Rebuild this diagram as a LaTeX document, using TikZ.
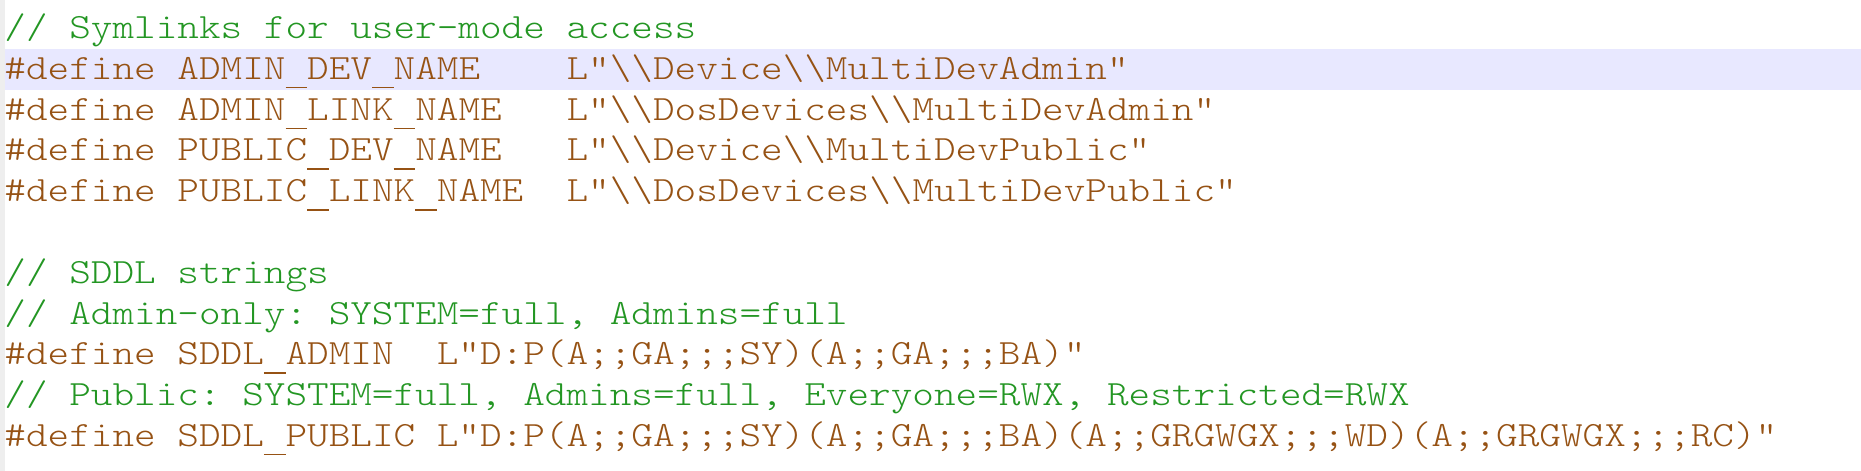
\documentclass[tikz,border=0pt]{standalone}
\usepackage{fontspec}
\newfontfamily\codefont{lmmonolt10-regular.otf}[FakeStretch=1.16, WordSpace={1,0,0}]
\definecolor{cmtgreen}{RGB}{35,150,35}
\definecolor{ppbrown}{RGB}{150,82,20}
\definecolor{curline}{RGB}{232,232,255}
\definecolor{gutter}{RGB}{238,238,238}
\newcommand{\bsl}{\textbackslash}
\newcommand{\us}{\makebox[0pt][l]{\rule[-8.8pt]{\widthof{x}}{1.4pt}}\phantom{x}}
\usepackage{calc}
\begin{document}
\begin{tikzpicture}[x=1pt,y=-1pt,
  codetxt/.style={anchor=base west, inner sep=0pt, outer sep=0pt,
    font=\codefont\fontsize{35.5}{40}\selectfont},
  cmt/.style={codetxt, text=cmtgreen},
  pre/.style={codetxt, text=ppbrown}]
\useasboundingbox (0,0) rectangle (1861,471);
\fill[white] (0,0) rectangle (1861,471);
\fill[gutter] (0,0) rectangle (4.5,471);
\fill[curline] (4.5,49) rectangle (1861,89.5);
\def\xo{4.5}
\node[cmt] (l1) at (\xo,38.5) {//~Symlinks~for~user-mode~access};
\node[pre] (l2) at (\xo,79.3) {\#define~ADMIN\us DEV\us NAME~~~~L"\bsl\bsl Device\bsl\bsl MultiDevAdmin"};
\node[pre] (l3) at (\xo,120.1) {\#define~ADMIN\us LINK\us NAME~~~L"\bsl\bsl DosDevices\bsl\bsl MultiDevAdmin"};
\node[pre] (l4) at (\xo,160.9) {\#define~PUBLIC\us DEV\us NAME~~~L"\bsl\bsl Device\bsl\bsl MultiDevPublic"};
\node[pre] (l5) at (\xo,201.7) {\#define~PUBLIC\us LINK\us NAME~~L"\bsl\bsl DosDevices\bsl\bsl MultiDevPublic"};
\node[cmt] (l7) at (\xo,283.3) {//~SDDL~strings};
\node[cmt] (l8) at (\xo,324.1) {//~Admin-only:~SYSTEM=full,~Admins=full};
\node[pre] (l9) at (\xo,364.9) {\#define~SDDL\us ADMIN~~L"D:P(A;;GA;;;SY)(A;;GA;;;BA)"};
\node[cmt] (l10) at (\xo,405.7) {//~Public:~SYSTEM=full,~Admins=full,~Everyone=RWX,~Restricted=RWX};
\node[pre] (l11) at (\xo,446.5) {\#define~SDDL\us PUBLIC~L"D:P(A;;GA;;;SY)(A;;GA;;;BA)(A;;GRGWGX;;;WD)(A;;GRGWGX;;;RC)"};
\end{tikzpicture}
\end{document}
